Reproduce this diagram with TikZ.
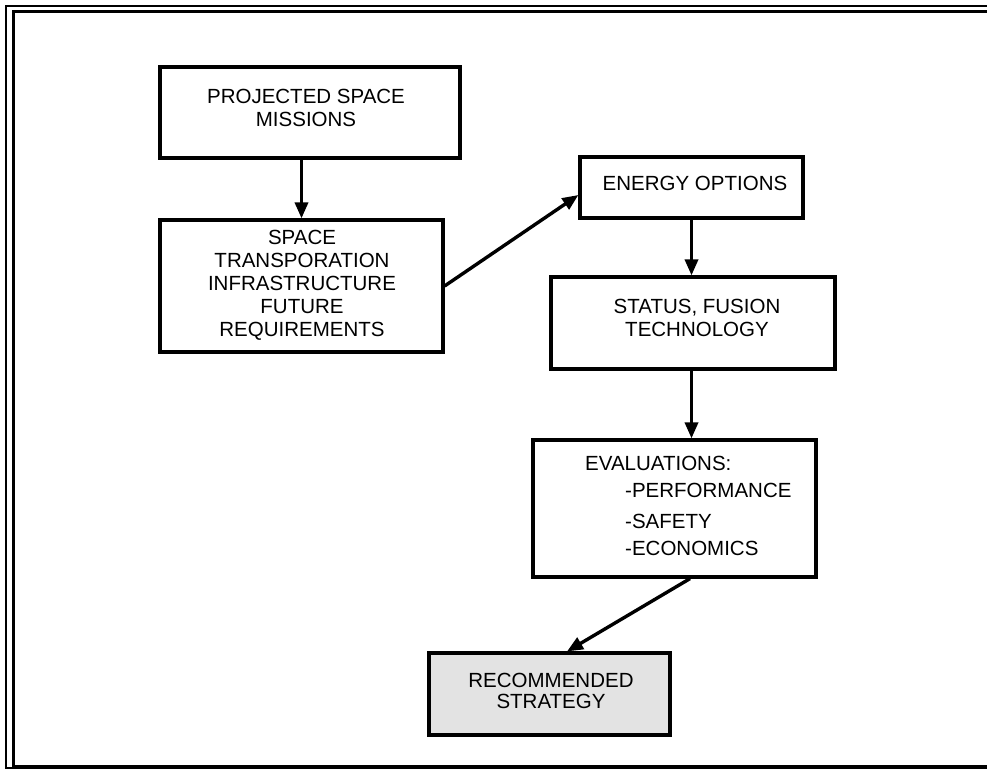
\documentclass[tikz,border=0pt]{standalone}
\usepackage{fontspec}
\setmainfont{Liberation Sans}
\usetikzlibrary{arrows.meta}
\begin{document}
\begin{tikzpicture}[x=1pt,y=-1pt,
  box/.style={draw=black, line width=3.2pt, inner sep=0pt},
  txt/.style={font=\fontsize{20.5}{23}\selectfont, align=center, inner sep=0pt, anchor=north},
  arr/.style={line width=3.4pt, -{Triangle[length=16pt,width=13pt]}}]
\useasboundingbox (0,0) rectangle (987,772);
\fill[white] (0,0) rectangle (987,772);
% frame
\draw[line width=2.6pt] (987,6) -- (6,6) -- (6,768) -- (987,768);
\draw[line width=3pt] (987,11.5) -- (13,11.5) -- (13,766) -- (987,766);
% boxes
\node[box, minimum width=300pt, minimum height=91pt] (pm) at (310,112.5) {};
\node[box, minimum width=283pt, minimum height=132pt] (sti) at (301.5,286) {};
\node[box, minimum width=223pt, minimum height=61pt] (en) at (691.5,187.5) {};
\node[box, minimum width=284pt, minimum height=92pt] (st) at (693,323) {};
\node[box, minimum width=283pt, minimum height=137pt] (ev) at (674.5,508.5) {};
\node[box, fill=gray!22, minimum width=241pt, minimum height=82pt] (rc) at (549.5,694) {};
% texts
\node[txt] (tpm) at (306,88.5) {PROJECTED SPACE\\MISSIONS};
\node[txt] (tsti) at (302,229.5) {SPACE\\TRANSPORATION\\INFRASTRUCTURE\\FUTURE\\REQUIREMENTS};
\node[txt] (ten) at (695,175.5) {ENERGY OPTIONS};
\node[txt] (tst) at (697,298.5) {STATUS, FUSION\\TECHNOLOGY};
\node[txt, anchor=north west] (tev) at (585,455.5) {EVALUATIONS:};
\node[txt, anchor=north west, align=left] (tevl) at (625,482.5) {-PERFORMANCE\\[8pt]-SAFETY\\[4pt]-ECONOMICS};
\node[txt, font=\fontsize{20.5}{21}\selectfont] (trc) at (551,672.5) {RECOMMENDED\\STRATEGY};
% connectors
\draw[arr] (pm.south -| sti.north) -- (sti.north);
\draw[arr] (sti.east) -- ([yshift=-7.5pt]en.west);
\draw[arr] (en.south) -- (en.south |- st.north);
\draw[arr] (st.south -| en.south) -- (en.south |- ev.north);
\draw[arr] ([xshift=15.5pt]ev.south) -- ([xshift=17.5pt]rc.north);
\end{tikzpicture}
\end{document}
